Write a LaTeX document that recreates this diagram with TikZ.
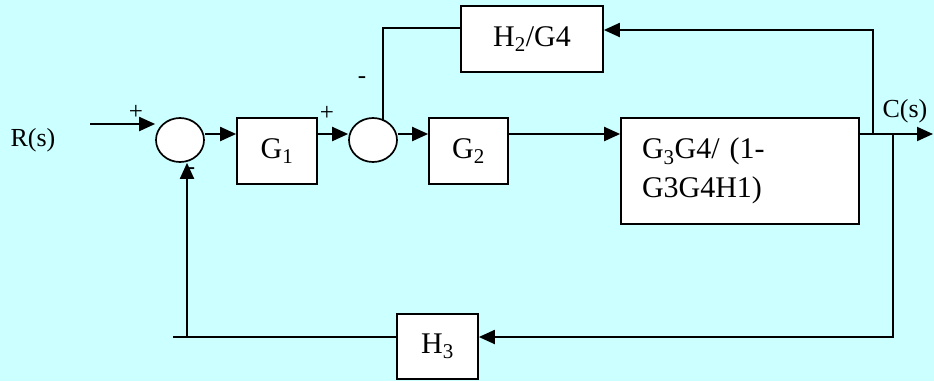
\documentclass[tikz,border=0pt]{standalone}
\usepackage{fontspec}
\setmainfont{Liberation Serif}
\usetikzlibrary{shapes.geometric,arrows.meta}
\definecolor{bg}{HTML}{CCFFFF}
\begin{document}
\begin{tikzpicture}[x=1pt,y=-1pt,
  blk/.style={draw, fill=white, line width=1.7pt, inner sep=0pt, font=\fontsize{30}{39}\selectfont},
  summ/.style={ellipse, draw, fill=white, line width=1.7pt, minimum width=48pt, minimum height=44pt, inner sep=0pt},
  wire/.style={line width=2pt},
  arr/.style={wire, -{Triangle[length=16pt,width=14pt]}},
  lbl/.style={font=\fontsize{26}{30}\selectfont, inner sep=0pt},
  sgn/.style={font=\fontsize{25}{28}\selectfont, inner sep=0pt}]
\fill[bg] (0,0) rectangle (934,381);
\useasboundingbox (0,0) rectangle (934,381);

% blocks
\node[summ] (s1) at (180,140) {};
\node[summ] (s2) at (373,140) {};
\node[blk, minimum width=80pt, minimum height=66pt] (G1) at (277,151) {G\textsubscript{1}};
\node[blk, minimum width=79pt, minimum height=66pt] (G2) at (468.5,151) {G\textsubscript{2}};
\node[blk, minimum width=238pt, minimum height=106pt, text width=196pt, align=left] (G34) at (740,171) {G\textsubscript{3}G4/ (1-\\G3G4H1)};
\node[blk, minimum width=142pt, minimum height=66pt] (H2) at (532,39) {H\textsubscript{2}/G4};
\node[blk, minimum width=81pt, minimum height=65pt] (H3) at (437.5,346.5) {H\textsubscript{3}};

% coordinates
\coordinate (main) at (0,134);
\coordinate (rin) at (90,124);
\coordinate (out) at (933,134);
\coordinate (tp1) at (873,134);
\coordinate (tp2) at (893,134);
\coordinate (f1) at (873,30);
\coordinate (f0) at (383,28);
\coordinate (j2) at (383,121);
\coordinate (b2) at (893,337);
\coordinate (b1) at (173,337);
\coordinate (b3) at (187,337);

% labels
\node[lbl] (R) at (33,140) {R(s)};
\node[lbl] (C) at (905,111) {C(s)};
\node[sgn] (p1) at (136,112) {+};
\node[sgn] (p2) at (327,113) {+};
\node[sgn] (m1) at (362,80) {-};
\node[sgn] (m2) at (191,171) {-};

% forward path
\draw[arr] (rin) -- (s1.west |- rin);
\draw[arr] (s1.east |- main) -- (G1.west |- main);
\draw[arr] (G1.east |- main) -- (s2.west |- main);
\draw[arr] (s2.east |- main) -- (G2.west |- main);
\draw[arr] (G2.east |- main) -- (G34.west |- main);
\draw[arr] (G34.east |- main) -- (out);

% upper feedback
\draw[arr] (tp1) -- (f1) -- (H2.east |- f1);
\draw[wire] (H2.west |- f0) -- (f0) -- (j2);

% lower feedback
\draw[arr] (tp2) -- (b2) -- (H3.east |- b2);
\draw[wire] (H3.west |- b2) -- (b1);
\draw[arr] (b3) -- (b3 |- s1.south);
\end{tikzpicture}
\end{document}
